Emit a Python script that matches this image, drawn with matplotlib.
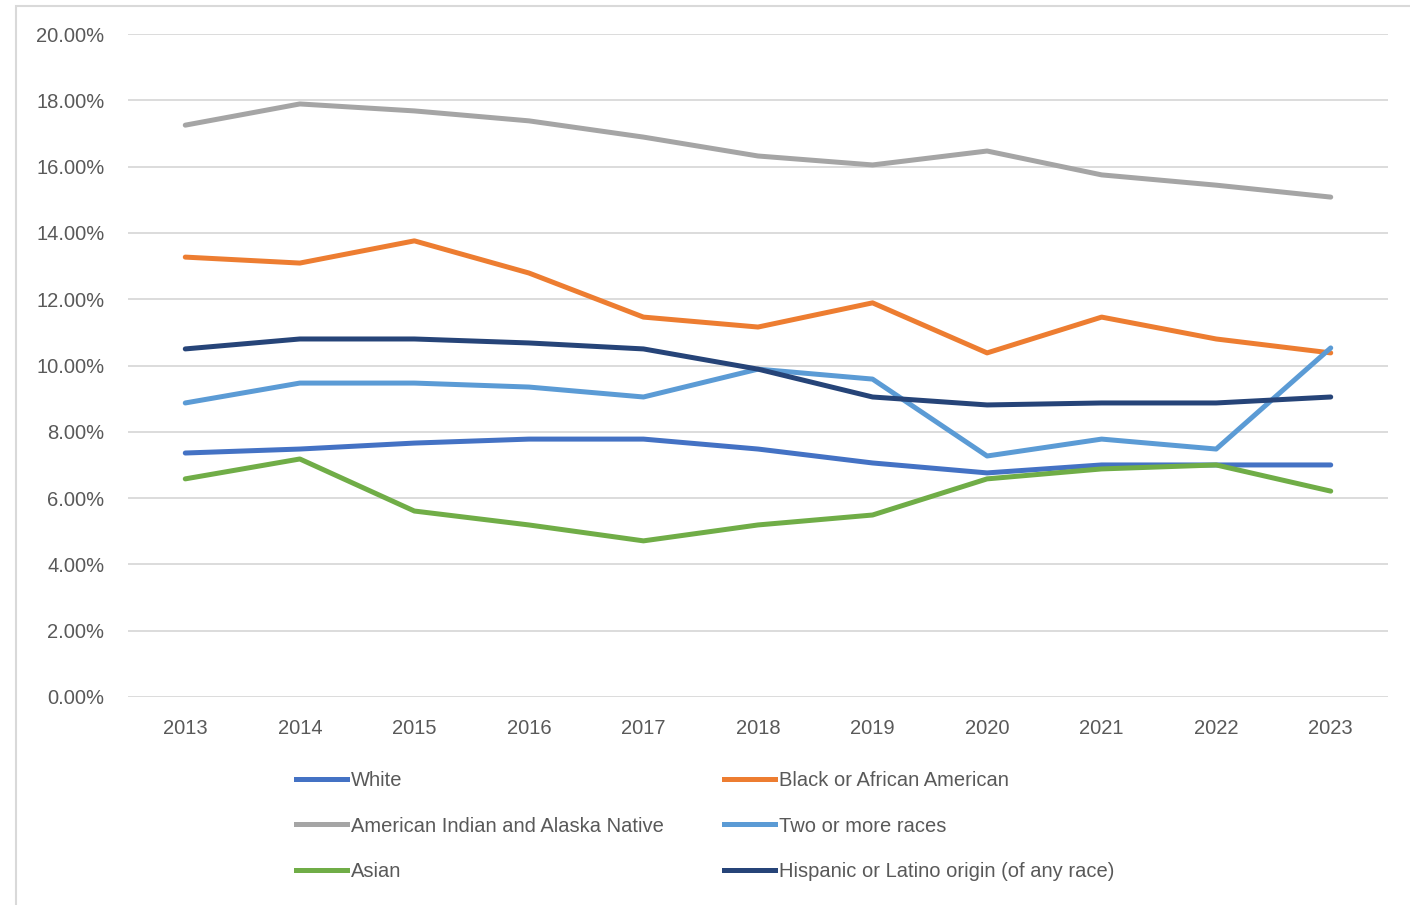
import matplotlib
matplotlib.use("Agg")
import matplotlib.pyplot as plt
from matplotlib.lines import Line2D
from matplotlib.patches import Rectangle
from matplotlib.ticker import FuncFormatter

# ── Data (percent) ─────────────────────────────────────────────
years = ["2013", "2014", "2015", "2016", "2017", "2018",
         "2019", "2020", "2021", "2022", "2023"]

white     = [7.36, 7.48, 7.66, 7.78, 7.78, 7.48, 7.06, 6.76, 7.00, 7.00, 7.00]
black     = [13.27, 13.09, 13.76, 12.79, 11.46, 11.16, 11.89, 10.38, 11.46, 10.80, 10.38]
aian      = [17.25, 17.89, 17.68, 17.38, 16.89, 16.32, 16.05, 16.47, 15.75, 15.44, 15.08]
two_more  = [8.87, 9.47, 9.47, 9.35, 9.05, 9.89, 9.59, 7.27, 7.78, 7.48, 10.53]
asian     = [6.58, 7.18, 5.61, 5.19, 4.71, 5.19, 5.49, 6.58, 6.88, 7.00, 6.21]
hispanic  = [10.50, 10.80, 10.80, 10.68, 10.50, 9.89, 9.05, 8.81, 8.87, 8.87, 9.05]

labels = ["White", "Black or African American", "American Indian and Alaska Native",
          "Two or more races", "Asian", "Hispanic or Latino origin (of any race)"]
series = [white, black, aian, two_more, asian, hispanic]
colors = ["#4472C4", "#ED7D31", "#A5A5A5", "#5B9BD5", "#70AD47", "#264478"]

TXT = "#595959"
GRID = "#D9D9D9"

plt.rcParams["font.family"] = ["Liberation Sans", "DejaVu Sans"]

fig = plt.figure(figsize=(14.1, 9.05), dpi=100)
fig.patch.set_facecolor("white")

# outer chart frame (clipped at right / bottom like the screenshot)
fig.patches.append(Rectangle((16 / 1410, -0.1), 1.2, 1.1 - 6 / 905,
                             transform=fig.transFigure, fill=False,
                             edgecolor=GRID, linewidth=1.5))

ax = fig.add_axes([128 / 1410, 1 - 697 / 905, (1388 - 128) / 1410, (697 - 34) / 905])

x = list(range(len(years)))
for vals, col, lab in zip(series, colors, labels):
    ax.plot(x, vals, color=col, linewidth=3.6, solid_capstyle="round",
            solid_joinstyle="round", label=lab, zorder=3)

ax.set_xlim(-0.5, len(years) - 0.5)
ax.set_ylim(0, 20)
ax.set_yticks(range(0, 21, 2))
ax.yaxis.set_major_formatter(FuncFormatter(lambda v, _: f"{v:.2f}%"))
ax.set_xticks(x)
ax.set_xticklabels(years)

ax.yaxis.grid(True, color=GRID, linewidth=1.3)
ax.set_axisbelow(True)
for s in ax.spines.values():
    s.set_visible(False)
ax.tick_params(axis="both", length=0, colors=TXT, labelsize=14.5)
ax.tick_params(axis="y", pad=17)
ax.tick_params(axis="x", pad=16)

# ── Legend: two single-column legends ─────────────────────────
def make_handles(idx):
    return [Line2D([0], [0], color=colors[i], linewidth=3.6) for i in idx]

col1 = [0, 2, 4]
col2 = [1, 3, 5]
for idx, xpos in ((col1, 296 / 1410), (col2, 724 / 1410)):
    fig.legend(make_handles(idx), [labels[i] for i in idx],
               loc="center left", bbox_to_anchor=(xpos, 1 - 826 / 905),
               frameon=False, borderpad=0, borderaxespad=0,
               handlelength=2.55, handletextpad=0.2, labelspacing=1.3,
               fontsize=14.5, labelcolor=TXT)

fig.savefig("out.png", dpi=100, facecolor="white")
